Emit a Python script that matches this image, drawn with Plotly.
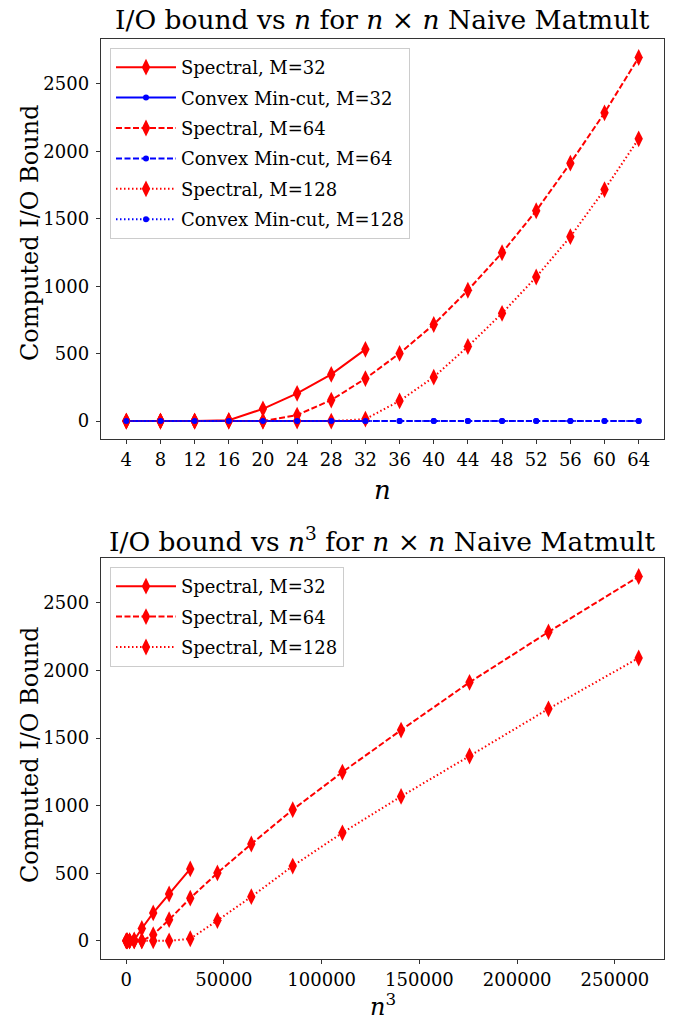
import plotly.graph_objects as go

# ---- data ----
n_all = [4, 8, 12, 16, 20, 24, 28, 32, 36, 40, 44, 48, 52, 56, 60, 64]
n_m32 = [4, 8, 12, 16, 20, 24, 28, 32]

spectral_m32 = [0, 0, 0, 6, 91, 206, 346, 532]
spectral_m64 = [0, 0, 0, 0, 0, 45, 156, 315, 502, 716, 970, 1248, 1559, 1912, 2285, 2695]
spectral_m128 = [0, 0, 0, 0, 0, 0, 0, 15, 150, 326, 553, 799, 1068, 1367, 1716, 2092]

mincut_m32 = [0, 0, 0, 0, 0, 0, 0, 0]
mincut_m64 = [0] * 16
mincut_m128 = [0] * 16

y_ticks = [0, 500, 1000, 1500, 2000, 2500]
x2_ticks = [0, 50000, 100000, 150000, 200000, 250000]

top_title = "I/O bound vs <i>n</i> for <i>n</i> × <i>n</i> Naive Matmult"
bot_title = "I/O bound vs <i>n</i><sup>3</sup> for <i>n</i> × <i>n</i> Naive Matmult"
y_label = "Computed I/O Bound"

RED = "#ff0000"
BLUE = "#0000ff"
FONT = "DejaVu Serif"

DASH = "6px,2.5px"
DOT = "1.5px,2.5px"

fig = go.Figure()

def cube(xs):
    return [x ** 3 for x in xs]

spec = [("Spectral, M=32", n_m32, spectral_m32, "solid"),
        ("Spectral, M=64", n_all, spectral_m64, DASH),
        ("Spectral, M=128", n_all, spectral_m128, DOT)]
mc = [("Convex Min-cut, M=32", n_m32, mincut_m32, "solid"),
      ("Convex Min-cut, M=64", n_all, mincut_m64, DASH),
      ("Convex Min-cut, M=128", n_all, mincut_m128, DOT)]

gi = 0
for (sname, sx, sy, sd), (mname, mx, my, md) in zip(spec, mc):
    gi += 1
    fig.add_trace(go.Scatter(x=sx, y=sy, name=sname, mode="lines+markers",
                             line=dict(color=RED, width=2, dash=sd),
                             marker=dict(symbol="diamond-tall", size=12, color=RED),
                             xaxis="x", yaxis="y", legend="legend", legendgroup=f"a{gi}"))
    fig.add_trace(go.Scatter(x=mx, y=my, name=mname, mode="lines+markers",
                             line=dict(color=BLUE, width=2, dash=md),
                             marker=dict(symbol="circle", size=6, color=BLUE),
                             xaxis="x", yaxis="y", legend="legend", legendgroup=f"b{gi}"))

for k, (sname, sx, sy, sd) in enumerate(spec):
    fig.add_trace(go.Scatter(x=cube(sx), y=sy, name=sname, mode="lines+markers",
                             line=dict(color=RED, width=2, dash=sd),
                             marker=dict(symbol="diamond-tall", size=12, color=RED),
                             xaxis="x2", yaxis="y2", legend="legend2", legendgroup=f"c{k}"))

W, H = 673, 1020
def px(x):
    return x / W
def py(y):
    return (H - y) / H

axis_common = dict(showgrid=False, zeroline=False, showline=True, mirror=True,
                   linecolor="#333333", linewidth=1, ticks="outside", ticklen=4,
                   tickcolor="#333333", tickfont=dict(family=FONT, size=18, color="black"))

dom_x = [px(100.7), px(664.3)]
legend_common = dict(xanchor="left", yanchor="top",
                     bgcolor="rgba(255,255,255,0.8)", bordercolor="#cccccc", borderwidth=1,
                     font=dict(family=FONT, size=18, color="black"),
                     tracegroupgap=4, itemwidth=60)
fig.update_layout(
    width=W, height=H, margin=dict(l=0, r=0, t=0, b=0),
    paper_bgcolor="white", plot_bgcolor="white",
    font=dict(family=FONT, color="black"),
    xaxis=dict(domain=dom_x, anchor="y", range=[1, 67], tickvals=n_all, **axis_common),
    yaxis=dict(domain=[py(439.3), py(39.3)], anchor="x", range=[-134.75, 2829.75],
               tickvals=y_ticks, ticklabelstandoff=3, **axis_common),
    xaxis2=dict(domain=dom_x, anchor="y2", range=[-13040, 275248],
                tickvals=x2_ticks, ticktext=[str(v) for v in x2_ticks], **axis_common),
    yaxis2=dict(domain=[py(959), py(558.3)], anchor="x2", range=[-134.75, 2829.75],
                tickvals=y_ticks, ticklabelstandoff=3, **axis_common),
    legend=dict(x=px(110), y=py(48), **legend_common),
    legend2=dict(x=px(110), y=py(567), **legend_common),
    showlegend=True,
)

ann = [
    dict(text=top_title, x=px(382.5), y=py(19), size=26.5),
    dict(text=bot_title, x=px(382.5), y=py(540), size=26.5),
    dict(text=y_label, x=px(30), y=py(233), size=24, angle=-90),
    dict(text=y_label, x=px(30), y=py(755), size=24, angle=-90),
    dict(text="<i>n</i>", x=px(382.5), y=py(490), size=26),
    dict(text="<i>n</i><sup>3</sup>", x=px(382.5), y=py(1005), size=24),
]
for a in ann:
    fig.add_annotation(xref="paper", yref="paper", showarrow=False,
                       xanchor="center", yanchor="middle",
                       x=a["x"], y=a["y"], text=a["text"], textangle=a.get("angle", 0),
                       font=dict(family=FONT, color="black", size=a["size"]))

fig.write_html("out.html")
